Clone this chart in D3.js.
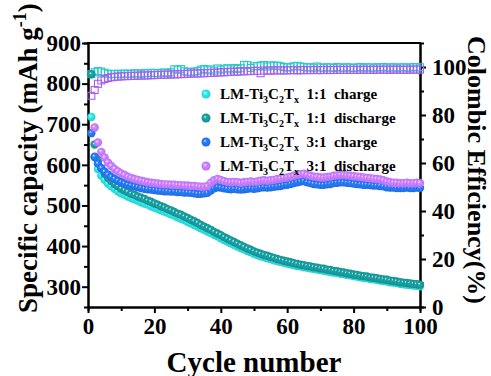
<!DOCTYPE html>
<html>
<head>
<meta charset="utf-8">
<script src="https://cdn.jsdelivr.net/npm/d3@7"></script>
<style>
	body { margin: 0; background: #fff; }
	svg { display: block; font-family: 'Liberation Serif', 'Times New Roman', serif; font-weight: bold; }
</style>
</head>
<body>
<div id="graph"></div>
<script>
var cycles = d3.range(1, 101);

var charge11 = [718, 618, 590, 574, 563, 554, 547, 541, 535, 530,
	526, 522, 518, 515, 512, 508, 505, 502, 498, 495,
	492, 488, 485, 482, 478, 475, 471, 467, 464, 460,
	456, 452, 448, 444, 440, 436, 432, 428, 424, 419,
	415, 411, 407, 403, 399, 395, 392, 388, 385, 381,
	378, 375, 373, 370, 368, 365, 363, 361, 359, 357,
	355, 353, 351, 350, 348, 347, 345, 344, 342, 341,
	339, 338, 336, 335, 334, 332, 331, 329, 328, 326,
	325, 323, 322, 321, 319, 318, 317, 315, 314, 313,
	311, 310, 309, 307, 306, 305, 304, 303, 302, 301];

var discharge11 = [823, 650, 612, 592, 578, 568, 560, 553, 547, 541,
	537, 533, 529, 526, 522, 519, 516, 512, 509, 505,
	502, 498, 495, 491, 488, 484, 480, 477, 473, 469,
	465, 461, 457, 452, 448, 444, 440, 435, 431, 427,
	422, 418, 414, 410, 406, 402, 398, 394, 391, 387,
	384, 381, 378, 376, 373, 371, 368, 366, 364, 362,
	360, 358, 356, 354, 353, 351, 350, 348, 347, 345,
	344, 342, 341, 339, 338, 336, 335, 333, 332, 330,
	329, 327, 326, 325, 323, 322, 321, 319, 318, 317,
	315, 314, 313, 311, 310, 309, 308, 307, 306, 305];

var charge31 = [678, 620, 603, 592, 583, 576, 570, 565, 561, 557,
	554, 551, 549, 547, 545, 543, 541, 540, 539, 538,
	537, 536, 535, 535, 534, 534, 533, 533, 532, 532,
	531, 530, 529, 529, 530, 531, 537, 542, 545, 544,
	542, 541, 540, 541, 540, 539, 540, 541, 542, 541,
	542, 544, 545, 544, 545, 546, 547, 548, 550, 551,
	553, 555, 557, 559, 560, 557, 555, 553, 552, 551,
	551, 552, 553, 555, 556, 557, 557, 556, 555, 554,
	553, 552, 551, 551, 550, 549, 549, 548, 547, 545,
	544, 544, 543, 543, 543, 544, 543, 543, 544, 543];

// first cycle of 3:1 discharge is not visible in the figure
var discharge31 = [null, 692, 655, 632, 618, 606, 597, 590, 584, 579,
	575, 571, 568, 565, 563, 561, 559, 557, 556, 555,
	554, 553, 552, 552, 551, 551, 550, 550, 549, 549,
	548, 548, 547, 546, 546, 548, 556, 562, 565, 563,
	560, 558, 557, 558, 557, 556, 557, 558, 559, 558,
	559, 561, 562, 561, 562, 563, 565, 566, 568, 569,
	571, 573, 575, 577, 578, 575, 573, 571, 570, 569,
	569, 570, 571, 573, 574, 575, 575, 574, 573, 572,
	571, 570, 569, 568, 567, 566, 565, 564, 562, 559,
	557, 556, 556, 555, 555, 556, 555, 555, 556, 555];

var ce11 = [97.0, 97.8, 98.3, 98.1, 97.6, 97.2, 97.0, 97.1, 97.2, 97.0,
	97.3, 97.1, 97.2, 97.4, 97.3, 97.2, 97.5, 97.4, 97.6, 97.5,
	97.4, 97.6, 97.7, 97.5, 97.8, 99.0, 98.9, 99.1, 98.2, 98.0,
	97.9, 98.1, 98.3, 98.9, 99.2, 98.6, 99.0, 98.5, 99.4, 98.9,
	99.3, 99.5, 99.0, 99.6, 99.2, 99.5, 100.9, 100.8, 99.6, 100.3,
	100.4, 100.6, 100.8, 100.2, 100.7, 100.5, 100.6, 100.3, 100.0, 99.8,
	99.9, 100.3, 100.5, 100.2, 100.0, 99.8, 99.9, 99.7, 100.2, 99.8,
	99.7, 99.9, 99.8, 99.6, 100.0, 99.8, 99.7, 99.9, 99.8, 99.6,
	99.8, 100.0, 99.7, 99.9, 99.8, 99.7, 99.9, 99.8, 100.0, 99.7,
	99.8, 99.9, 99.7, 99.8, 99.9, 99.7, 99.8, 100.0, 99.8, 99.9];

var ce31 = [88.0, 90.4, 93.0, 94.4, 95.0, 95.4, 95.7, 95.9, 96.0, 96.1,
	96.2, 96.2, 96.3, 96.3, 96.4, 96.4, 96.5, 96.5, 96.6, 96.6,
	96.7, 96.7, 96.8, 96.8, 96.9, 96.9, 97.0, 97.0, 97.1, 97.2,
	97.2, 97.3, 97.3, 97.4, 97.4, 97.5, 97.5, 97.6, 97.7, 97.8,
	97.8, 97.9, 98.0, 98.0, 98.1, 98.2, 98.2, 98.3, 98.3, 98.4,
	98.4, 97.4, 98.5, 98.5, 98.5, 98.6, 98.6, 98.6, 98.6, 98.6,
	98.7, 98.7, 98.6, 98.7, 98.7, 98.7, 98.7, 98.8, 98.7, 98.7,
	98.8, 98.8, 98.7, 98.8, 98.8, 98.8, 98.8, 98.8, 98.8, 98.8,
	98.8, 98.8, 98.9, 98.8, 98.8, 98.9, 98.8, 98.9, 98.9, 98.8,
	98.9, 98.9, 98.9, 98.9, 98.8, 98.9, 98.9, 98.9, 98.9, 98.9];

var xTicks = [0, 20, 40, 60, 80, 100];
var capTicks = [300, 400, 500, 600, 700, 800, 900];
var ceTicks = [0, 20, 40, 60, 80, 100];

var seriesNames = ['1:1  charge', '1:1  discharge', '3:1  charge', '3:1  discharge'];
var seriesColors = ['#27c6c8', '#15898a', '#2168dc', '#b06ef4'];
var ceColors = ['#2cc8c8', '#a660f0'];


var graphWidth = 491,
	graphHeight = 376;

var plotLeft = 88, plotRight = 420, plotTop = 43, plotBottom = 307;

var xScale = d3.scaleLinear()
	.domain([0, 100])
	.range([plotLeft, plotRight]);

var capScale = d3.scaleLinear()
	.domain([250, 900])
	.range([plotBottom, plotTop]);

var ceScale = d3.scaleLinear()
	.domain([0, 110])
	.range([plotBottom, plotTop]);

var svg = d3.select('#graph').append('svg')
	.attr('width', graphWidth)
	.attr('height', graphHeight);

var defs = svg.append('defs');

// sphere look for the round markers
seriesColors.forEach(function(c, i) {
	var g = defs.append('radialGradient')
		.attr('id', 'ball' + i)
		.attr('cx', '50%').attr('cy', '50%').attr('r', '55%')
		.attr('fx', '38%').attr('fy', '35%');
	g.append('stop').attr('offset', '0%').attr('stop-color', '#ffffff');
	g.append('stop').attr('offset', '28%').attr('stop-color', d3.color(c).brighter(0.6));
	g.append('stop').attr('offset', '100%').attr('stop-color', c);
});


function drawAxes() {
	var xAxis = d3.axisBottom(xScale).tickValues(xTicks).tickSize(6).tickSizeOuter(0).tickPadding(5);
	var xMinor = d3.axisBottom(xScale).tickValues([10, 30, 50, 70, 90]).tickSize(4).tickFormat('');
	var yAxis = d3.axisLeft(capScale).tickValues(capTicks).tickSize(6).tickSizeOuter(0).tickPadding(1);
	var yMinor = d3.axisLeft(capScale).tickValues([350, 450, 550, 650, 750, 850]).tickSize(4).tickFormat('');
	var rAxis = d3.axisRight(ceScale).tickValues(ceTicks).tickSize(6).tickSizeOuter(0).tickPadding(6);
	var rMinor = d3.axisRight(ceScale).tickValues([10, 30, 50, 70, 90]).tickSize(4).tickFormat('');

	var groups = [
		[xAxis, 'translate(0,' + plotBottom + ')'],
		[xMinor, 'translate(0,' + plotBottom + ')'],
		[yAxis, 'translate(' + plotLeft + ',0)'],
		[yMinor, 'translate(' + plotLeft + ',0)'],
		[rAxis, 'translate(' + plotRight + ',0)'],
		[rMinor, 'translate(' + plotRight + ',0)']
	];
	groups.forEach(function(g) {
		var a = svg.append('g')
			.attr('class', 'axis')
			.attr('transform', g[1])
			.call(g[0]);
		a.select('.domain').attr('stroke-width', 2);
		a.selectAll('.tick line').attr('stroke-width', 2);
		a.selectAll('.tick text')
			.attr('font-family', "'Liberation Serif', serif")
			.attr('font-weight', 'bold')
			.attr('font-size', 23)
			.attr('fill', '#000');
	});

	// top frame line
	svg.append('line')
		.attr('x1', plotLeft - 1).attr('x2', plotRight + 1)
		.attr('y1', plotTop).attr('y2', plotTop)
		.attr('stroke', '#000').attr('stroke-width', 2);

	svg.append('text')
		.attr('x', (plotLeft + plotRight) / 2)
		.attr('y', 372)
		.attr('text-anchor', 'middle')
		.attr('font-size', 29)
		.text('Cycle number');

	var lt = svg.append('text')
		.attr('transform', 'translate(37,313) rotate(-90)')
		.attr('text-anchor', 'start')
		.attr('font-size', 27)
		.text('Specific capacity (mAh g');
	lt.append('tspan').attr('font-size', 18).attr('dy', -11).text('-1');
	lt.append('tspan').attr('dy', 11).text(')');

	svg.append('text')
		.attr('transform', 'translate(468,' + ((plotTop + plotBottom) / 2 - 5) + ') rotate(90)')
		.attr('text-anchor', 'middle')
		.attr('font-size', 26)
		.text('Colombic Efficiency(%)');
}


function drawPoints() {
	// coulombic efficiency, hollow squares
	[ce11, ce31].forEach(function(series, k) {
		svg.append('g').selectAll('rect').data(series).enter()
			.append('rect')
				.attr('x', function(d, i) { return xScale(cycles[i]) - 3.5; })
				.attr('y', function(d) { return ceScale(d) - 3.5; })
				.attr('width', 7)
				.attr('height', 7)
				.attr('fill', 'none')
				.attr('stroke', ceColors[k])
				.attr('stroke-width', 1.1);
	});

	// capacities, shaded balls
	[charge11, discharge11, charge31, discharge31].forEach(function(series, k) {
		var pts = series.map(function(v, i) { return {cycle: cycles[i], value: v}; })
			.filter(function(d) { return d.value !== null; });
		svg.append('g').selectAll('circle').data(pts).enter()
			.append('circle')
				.attr('cx', function(d) { return xScale(d.cycle); })
				.attr('cy', function(d) { return capScale(d.value); })
				.attr('r', 4.2)
				.attr('fill', 'url(#ball' + k + ')');
	});
}


function drawLegend() {
	var rows = svg.append('g').selectAll('g').data(seriesNames).enter()
		.append('g')
			.attr('transform', function(d, i) { return 'translate(206,' + (94 + i * 24) + ')'; });

	rows.append('circle')
		.attr('r', 4.5)
		.attr('fill', function(d, i) { return 'url(#ball' + i + ')'; });

	var t = rows.append('text')
		.attr('x', 14)
		.attr('y', 5)
		.attr('font-size', 15)
		.style('white-space', 'pre');
	t.append('tspan').text('LM-Ti');
	t.append('tspan').attr('font-size', 10).attr('dy', 4).text('3');
	t.append('tspan').attr('dy', -4).text('C');
	t.append('tspan').attr('font-size', 10).attr('dy', 4).text('2');
	t.append('tspan').attr('dy', -4).text('T');
	t.append('tspan').attr('font-size', 10).attr('dy', 4).text('x');
	t.append('tspan').attr('dy', -4).text(function(d) { return '  ' + d; });
}

drawAxes();
drawPoints();
drawLegend();
</script>
</body>
</html>
